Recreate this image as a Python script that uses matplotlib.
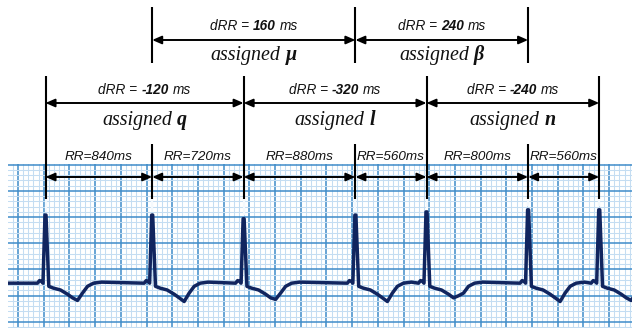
import numpy as np
import matplotlib
matplotlib.use("Agg")
import matplotlib.pyplot as plt
from matplotlib.lines import Line2D
from matplotlib.patches import FancyArrowPatch
from matplotlib.ticker import FixedLocator
from matplotlib.transforms import blended_transform_factory, offset_copy

# ---------------- data ----------------
rr_ms = [840, 720, 880, 560, 800, 560]
rr_labels = ["RR=840ms", "RR=720ms", "RR=880ms", "RR=560ms", "RR=800ms", "RR=560ms"]

# dRR rows: (start beat, end beat)
drr_upper_pairs = [(1, 3), (3, 5)]
drr_upper_ms = ["160", "240"]
drr_upper_letters = ["\u03bc", "\u03b2"]

drr_lower_pairs = [(0, 2), (2, 4), (4, 6)]
drr_lower_ms = ["-120", "-320", "-240"]
drr_lower_letters = ["q", "l", "n"]

r_amp_mv = [1.30, 1.30, 1.23, 1.30, 1.36, 1.40, 1.40]
t_dip_mv = [-0.33, -0.35, -0.31, -0.35, -0.24, -0.35, -0.33]

# beat template (ms relative to R peak, mV); "R" = R peak, "dip" = T dip
beat_offsets_ms = [-63, -47, -30, -20, -4, 4, 26, 63, 118, 173, 213, 252, 291, 331, 378, 441]
beat_shape_mv = [0.0, 0.05, 0.03, 0.0, "R", "R", -0.06, -0.095, -0.13, -0.21, -0.28, "dip",
                 -0.19, -0.06, 0.0, 0.02]

# ---------------- figure ----------------
W, H = 635, 328
fig = plt.figure(figsize=(W / 100, H / 100), dpi=100)

PX_PER_MS = 0.127
PX_PER_MV = 52.6
X0_PX = 45.5          # pixel of first R peak
BASE_PX = 283.0       # baseline pixel row
GRID_L, GRID_R, GRID_T = 8, 632, 164

ax = fig.add_axes([GRID_L / W, 0, (GRID_R - GRID_L) / W, (H - GRID_T) / H])
ax.set_xlim((GRID_L - X0_PX) / PX_PER_MS, (GRID_R - X0_PX) / PX_PER_MS)
ax.set_ylim((BASE_PX - H) / PX_PER_MV, (BASE_PX - GRID_T) / PX_PER_MV + 0.012)

# ECG paper grid
maj_x0 = (18 - X0_PX) / PX_PER_MS
maj_dx = 25.7 / PX_PER_MS
xmaj = maj_x0 + maj_dx * np.arange(-1, 26)
xmin = maj_x0 + maj_dx / 5 * np.arange(-5, 130)
maj_y0 = (BASE_PX - GRID_T) / PX_PER_MV
ymaj = maj_y0 - 0.5 * np.arange(0, 8)
ymin = maj_y0 - 0.1 * np.arange(0, 40)
ax.xaxis.set_major_locator(FixedLocator(xmaj))
ax.xaxis.set_minor_locator(FixedLocator(xmin))
ax.yaxis.set_major_locator(FixedLocator(ymaj))
ax.yaxis.set_minor_locator(FixedLocator(ymin))
ax.grid(which="minor", color="#c4ddf2", lw=0.75, zorder=0)
ax.grid(which="major", color="#3f8cc9", lw=1.1, zorder=1)
ax.tick_params(which="both", length=0, labelbottom=False, labelleft=False)
for s in ax.spines.values():
    s.set_visible(False)
ax.set_axisbelow(True)

# R peak times
r_times = np.concatenate([[0], np.cumsum(rr_ms)])

# ECG trace
ts = [ax.get_xlim()[0]]
vs = [0.0]
for i, tr in enumerate(r_times):
    for off, val in zip(beat_offsets_ms, beat_shape_mv):
        ts.append(tr + off)
        if val == "R":
            vs.append(r_amp_mv[i])
        elif val == "dip":
            vs.append(t_dip_mv[i])
        else:
            vs.append(val)
ax.plot(ts, vs, color="#11255f", lw=2.5, solid_joinstyle="round", zorder=5)

# ---------------- overlay for annotations ----------------
ov = fig.add_axes([0, 0, 1, 1], zorder=3)
ov.set_xlim(0, W)
ov.set_ylim(H, 0)
ov.axis("off")
ov.patch.set_visible(False)
blend = blended_transform_factory(ax.transData, ov.transData)

def vline(t, y1, y2, color="black", lw=1.5):
    ov.add_line(Line2D([t, t], [y1, y2], transform=blend, color=color, lw=lw,
                       solid_capstyle="butt"))

def harrow(t1, t2, y):
    a = FancyArrowPatch((t1, y), (t2, y), transform=blend,
                        arrowstyle="<|-|>,head_length=5.5,head_width=2.4",
                        mutation_scale=1, lw=1.4, color="black",
                        shrinkA=0, shrinkB=0)
    ov.add_patch(a)

renderer = fig.canvas.get_renderer()

def rich_text(tc, y, parts, gap_px):
    texts, widths = [], []
    for s, kw in parts:
        t = ov.text(tc, y, s, transform=blend, ha="left", va="baseline", **kw)
        texts.append(t)
        widths.append(t.get_window_extent(renderer).width)
    total = sum(widths) + gap_px * (len(parts) - 1)
    x = -total / 2
    for t, w in zip(texts, widths):
        t.set_transform(offset_copy(blend, fig=fig, x=x, y=0, units="dots"))
        x += w + gap_px

sans_sz = 9.8
sans = dict(family="Liberation Sans", style="italic", fontsize=sans_sz, color="#111111")
sans_b = dict(family="Liberation Sans", style="italic", weight="bold", fontsize=sans_sz,
              color="#111111")
serif_sz = 14.4
serif = dict(family="Liberation Serif", style="italic", fontsize=serif_sz, color="#111111")
serif_b = dict(family="Liberation Serif", style="italic", weight="bold", fontsize=serif_sz,
               color="#111111")
sans_gap = 0.278 * sans_sz * 100 / 72
serif_gap = 0.25 * serif_sz * 100 / 72

# vertical lines
for i, tr in enumerate(r_times):
    if i % 2 == 0:
        vline(tr, 76, 199)
    else:
        vline(tr, 7, 63)
        vline(tr, 144, 199)
    peak_px = BASE_PX - r_amp_mv[i] * PX_PER_MV
    vline(tr, 199, peak_px - 3, color="#f4f9fd", lw=1.6)

# RR row
for i, lab in enumerate(rr_labels):
    harrow(r_times[i], r_times[i + 1], 177)
    ov.text((r_times[i] + r_times[i + 1]) / 2, 160.5, lab, transform=blend,
            ha="center", va="baseline", fontsize=9.7, family="Liberation Sans",
            style="italic", color="#111111")

# dRR rows
for (a, b), val, let in zip(drr_lower_pairs, drr_lower_ms, drr_lower_letters):
    tc = (r_times[a] + r_times[b]) / 2
    harrow(r_times[a], r_times[b], 103)
    rich_text(tc, 94, [("dRR =", sans), (val, sans_b), ("ms", sans)], sans_gap)
    rich_text(tc, 125, [("assigned", serif), (let, serif_b)], serif_gap)

for (a, b), val, let in zip(drr_upper_pairs, drr_upper_ms, drr_upper_letters):
    tc = (r_times[a] + r_times[b]) / 2
    harrow(r_times[a], r_times[b], 40)
    rich_text(tc, 30.5, [("dRR =", sans), (val, sans_b), ("ms", sans)], sans_gap)
    rich_text(tc, 60, [("assigned", serif), (let, serif_b)], serif_gap)

ov.set_xlim(0, W)
ov.set_ylim(H, 0)
fig.savefig("out.png", dpi=100)
